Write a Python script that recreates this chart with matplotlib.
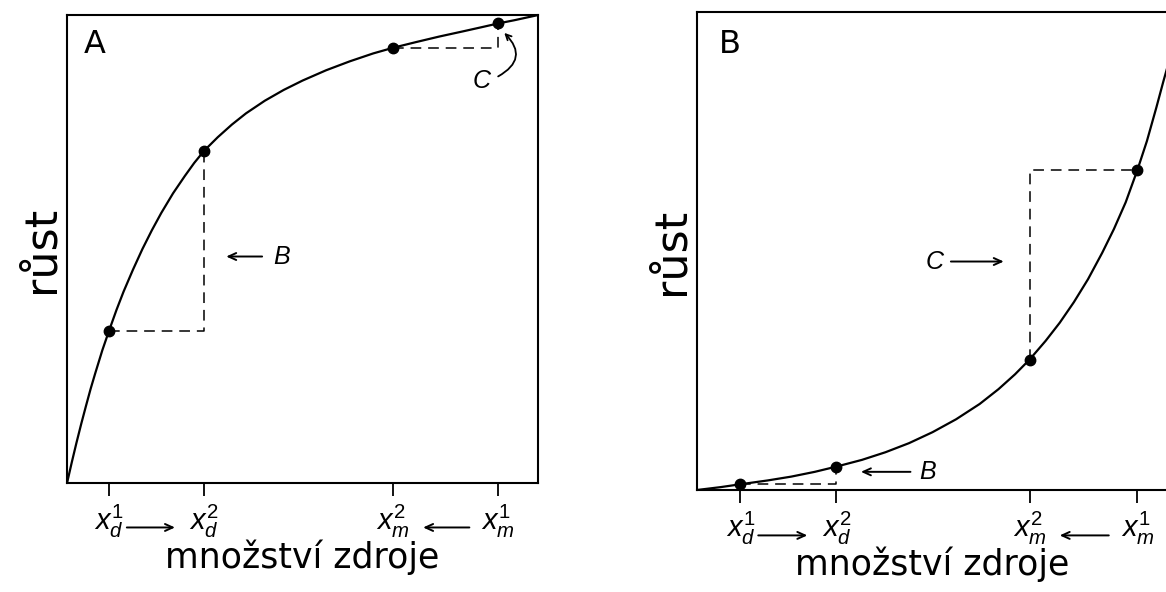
import matplotlib
matplotlib.use('Agg')
import matplotlib.pyplot as plt

plt.rcParams['font.family'] = ['DejaVu Sans']
plt.rcParams['mathtext.fontset'] = 'custom'
plt.rcParams['mathtext.it'] = 'Liberation Sans:italic'
plt.rcParams['mathtext.rm'] = 'Liberation Sans'

# panel A - saturating growth curve (axes 0-100)
a_x = [0, 1, 2, 3, 4, 5, 6, 7.5, 8.9, 10.5, 12, 14, 16, 18, 20, 22.5, 25, 27, 29.1,
       32, 35, 38, 42, 46, 50, 55, 60, 65, 69.2, 74, 79, 84, 88, 91.5, 95, 100]
a_y = [0, 4.4, 8.6, 12.6, 16.4, 20.1, 23.5, 28.4, 32.5, 37.0, 40.9, 45.6, 50.0, 54.0, 57.7, 61.9, 65.6, 68.4, 71.0,
       73.9, 76.6, 79.0, 81.7, 84.0, 86.0, 88.2, 90.1, 91.8, 93.0, 94.2, 95.4, 96.5, 97.4, 98.2, 98.9, 100]
a_pts_x = [8.9, 29.1, 69.2, 91.5]
a_pts_y = [32.5, 71.0, 93.0, 98.2]

# panel B - accelerating growth curve
b_x = [0, 5, 9.2, 15, 20, 25, 29.6, 35, 40, 45, 50, 55, 60, 64, 67.5, 70.6,
       74, 77, 80, 83, 86, 88.5, 91, 93.5, 95.5, 97.5, 99, 100]
b_y = [0, 0.6, 1.2, 2.0, 2.8, 3.8, 4.9, 6.3, 7.9, 9.8, 12.1, 14.8, 18.0, 21.1, 24.2, 27.3,
       31.2, 35.0, 39.3, 44.1, 49.6, 54.6, 60.2, 67.0, 73.0, 80.0, 85.5, 89.0]
b_pts_x = [9.2, 29.6, 70.6, 93.5]
b_pts_y = [1.2, 4.9, 27.3, 67.0]

tick_labels = [r'$x_d^1$', r'$x_d^2$', r'$x_m^2$', r'$x_m^1$']
xlabel = 'množství zdroje'
ylabel = 'růst'

arrow_kw = dict(arrowstyle='->,head_length=0.55,head_width=0.25', color='black', lw=1.4)
note_font = dict(fontsize=18, style='italic', family='Liberation Sans', ha='center', va='center')


def draw_panel(ax, cx, cy, px, py, letter, letter_pos):
    ax.plot(cx, cy, color='black', lw=1.6, solid_capstyle='round')
    ax.plot(px, py, 'o', color='black', ms=7.5, zorder=3)
    ax.set_xlim(0, 100)
    ax.set_ylim(0, 100)
    for s in ax.spines.values():
        s.set_linewidth(1.5)
    ax.set_yticks([])
    ax.set_xticks(px, tick_labels, fontsize=21)
    ax.tick_params(axis='x', direction='out', length=9, width=1.3, pad=5)
    ax.set_xlabel(xlabel, fontsize=25, labelpad=0)
    ax.set_ylabel(ylabel, fontsize=32, labelpad=3)
    ax.text(letter_pos[0], letter_pos[1], letter, fontsize=23, ha='center', va='center')
    # arrows between tick labels
    tr = ax.get_xaxis_transform()
    ax.annotate('', xy=(px[1] - 5.6, -0.095), xytext=(px[0] + 3.2, -0.095),
                xycoords=tr, textcoords=tr, arrowprops=arrow_kw, annotation_clip=False)
    ax.annotate('', xy=(px[2] + 5.8, -0.095), xytext=(px[3] - 5.5, -0.095),
                xycoords=tr, textcoords=tr, arrowprops=arrow_kw, annotation_clip=False)


fig = plt.figure(figsize=(11.66, 5.92), dpi=100)
axA = fig.add_axes([0.0575, 0.1841, 0.404, 0.7905])
axB = fig.add_axes([0.5978, 0.1723, 0.404, 0.8074])

dash = dict(color='black', lw=1.1, ls=(0, (7, 4.5)))

# --- A ---
draw_panel(axA, a_x, a_y, a_pts_x, a_pts_y, 'A', (5.9, 93.6))
axA.plot([a_pts_x[0], a_pts_x[1], a_pts_x[1]], [a_pts_y[0], a_pts_y[0], a_pts_y[1]], **dash)
axA.plot([a_pts_x[2], a_pts_x[3], a_pts_x[3]], [a_pts_y[2], a_pts_y[2], a_pts_y[3]], **dash)
axA.annotate('', xy=(33.2, 48.4), xytext=(42.0, 48.4), arrowprops=arrow_kw)
axA.text(45.6, 48.4, 'B', **note_font)
axA.text(88.1, 85.8, 'C', **note_font)
axA.annotate('', xy=(92.4, 96.6), xytext=(91.0, 86.6),
             arrowprops=dict(arrowstyle='->,head_length=0.4,head_width=0.2', color='black',
                             lw=1.3, connectionstyle='arc3,rad=0.7'))

# --- B ---
draw_panel(axB, b_x, b_y, b_pts_x, b_pts_y, 'B', (6.9, 93.1))
axB.plot([b_pts_x[0], b_pts_x[1], b_pts_x[1]], [b_pts_y[0], b_pts_y[0], b_pts_y[1]], **dash)
axB.plot([b_pts_x[2], b_pts_x[2], b_pts_x[3]], [b_pts_y[2], b_pts_y[3], b_pts_y[3]], **dash)
axB.annotate('', xy=(34.2, 3.8), xytext=(45.9, 3.8), arrowprops=arrow_kw)
axB.text(49.0, 3.8, 'B', **note_font)
axB.annotate('', xy=(65.7, 47.8), xytext=(53.3, 47.8), arrowprops=arrow_kw)
axB.text(50.5, 47.8, 'C', **note_font)

fig.savefig('out.png', dpi=100)
